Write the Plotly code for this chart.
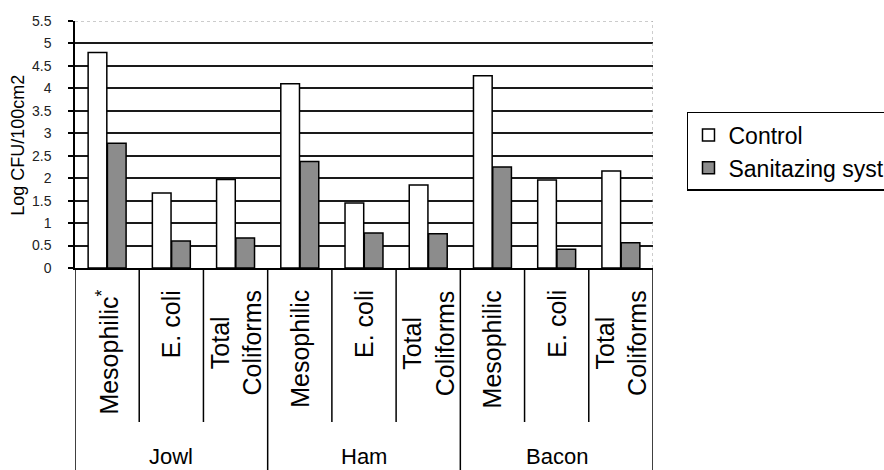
import plotly.graph_objects as go

# Data: log CFU/100 cm2 by product and microbial group
groups = ["Jowl", "Ham", "Bacon"]
sub_labels = ["Mesophilic<sup>*</sup>", "E. coli", "Total<br>Coliforms",
              "Mesophilic", "E. coli", "Total<br>Coliforms",
              "Mesophilic", "E. coli", "Total<br>Coliforms"]
control = [4.8, 1.67, 1.97, 4.1, 1.45, 1.85, 4.28, 1.96, 2.16]
sanitizing = [2.78, 0.6, 0.67, 2.37, 0.78, 0.76, 2.25, 0.42, 0.56]
y_ticks = [0, 0.5, 1, 1.5, 2, 2.5, 3, 3.5, 4, 4.5, 5, 5.5]

FONT = "Liberation Sans, Arial, sans-serif"
n_sub = len(sub_labels) // len(groups)
xpos = list(range(len(sub_labels)))

fig = go.Figure()
fig.add_trace(go.Bar(
    x=xpos, y=control, name="Control",
    marker=dict(color="white", line=dict(color="black", width=1.5)),
))
fig.add_trace(go.Bar(
    x=xpos, y=sanitizing, name="Sanitazing syst",
    marker=dict(color="#8c8c8c", line=dict(color="black", width=1.5)),
))

shapes = []
# plot border on top and right: faint dotted
shapes.append(dict(type="line", xref="paper", yref="y", x0=0, x1=1, y0=5.5, y1=5.5,
                   line=dict(color="white", width=3)))
shapes.append(dict(type="line", xref="paper", yref="y", x0=0, x1=1, y0=5.5, y1=5.5,
                   line=dict(color="#9a9a9a", width=1, dash="dot")))
shapes.append(dict(type="line", xref="x", yref="y", x0=len(xpos) - 0.5, x1=len(xpos) - 0.5,
                   y0=0, y1=5.5, line=dict(color="#9a9a9a", width=1, dash="dot")))

# separators between sub-categories (short) and groups (full height)
for g in range(len(groups)):
    for j in range(1, n_sub):
        xs = g * n_sub + j - 0.5
        shapes.append(dict(type="line", xref="x", yref="paper", x0=xs, x1=xs,
                           y0=0, y1=-0.6235, line=dict(color="black", width=1.5)))
for g in range(len(groups) + 1):
    xs = g * n_sub - 0.5
    shapes.append(dict(type="line", xref="x", yref="paper", x0=xs, x1=xs,
                       y0=0, y1=-0.83, line=dict(color="black", width=1.5)))

annotations = []
for i, lab in enumerate(sub_labels):
    annotations.append(dict(
        x=i, y=-0.081, xref="x", yref="paper", text=lab, showarrow=False,
        textangle=-90, xanchor="center", yanchor="top", align="center",
        font=dict(family=FONT, size=25, color="black"),
    ))
for g, name in enumerate(groups):
    annotations.append(dict(
        x=g * n_sub + (n_sub - 1) / 2, y=-0.765, xref="x", yref="paper", text=name,
        showarrow=False, xanchor="center", yanchor="middle",
        font=dict(family=FONT, size=22, color="black"),
    ))
annotations.append(dict(
    x=-0.0986, y=0.495, xref="paper", yref="paper", text="Log CFU/100cm2",
    showarrow=False, textangle=-90, xanchor="center", yanchor="middle",
    font=dict(family=FONT, size=18, color="black"),
))

fig.update_layout(
    width=884, height=470,
    margin=dict(l=75, r=231, t=21, b=202, autoexpand=False),
    paper_bgcolor="white", plot_bgcolor="white",
    barmode="group", bargap=0.4, bargroupgap=0.03,
    shapes=shapes, annotations=annotations,
    showlegend=True,
    legend=dict(
        x=1.0588, y=0.6316, xanchor="left", yanchor="top",
        bordercolor="black", borderwidth=1.5, bgcolor="white",
        font=dict(family=FONT, size=23, color="black"),
        tracegroupgap=0, itemwidth=30,
    ),
    xaxis=dict(
        range=[-0.5, len(xpos) - 0.5], showticklabels=False, showgrid=False,
        zeroline=False, showline=True, linecolor="black", linewidth=1.5, ticks="",
    ),
    yaxis=dict(
        range=[0, 5.5], tickvals=y_ticks, ticktext=[f"{v:g}" for v in y_ticks],
        showgrid=True, gridcolor="#1a1a1a", gridwidth=1.5, zeroline=False,
        showline=True, linecolor="black", linewidth=1.5,
        ticks="outside", ticklen=5, tickcolor="black", tickwidth=1.5,
        ticklabelstandoff=14,
        tickfont=dict(family=FONT, size=14, color="#222"),
    ),
)

fig.write_html("out.html")
